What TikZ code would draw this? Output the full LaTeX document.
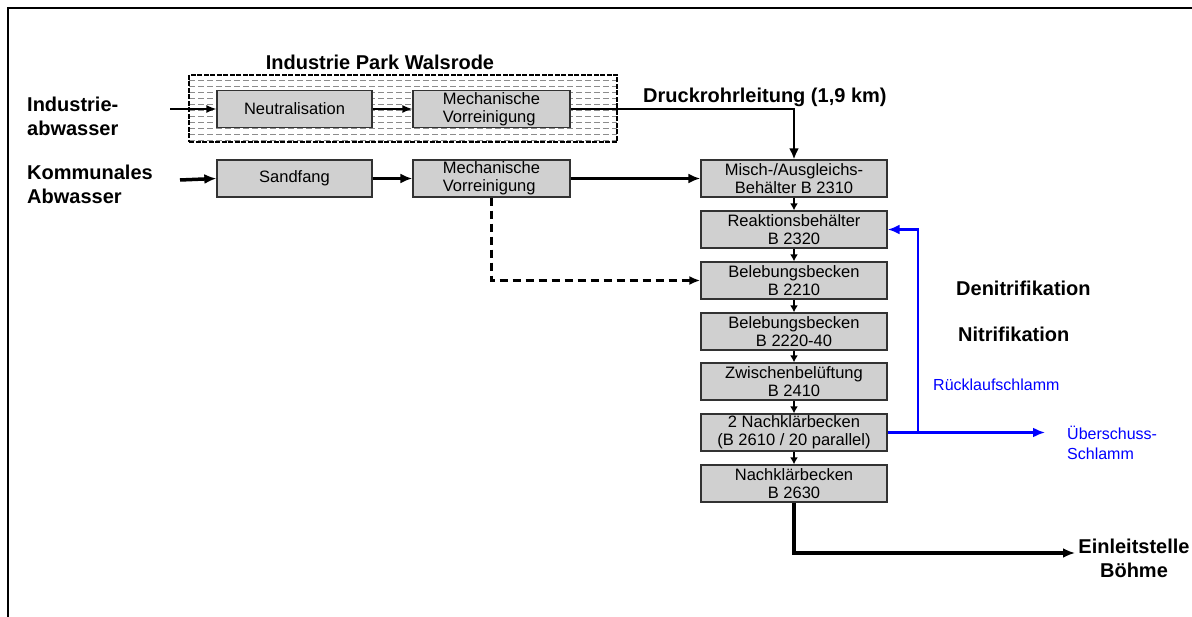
\documentclass[tikz,border=0pt]{standalone}
\usepackage{fontspec}
\setmainfont{Liberation Sans}
\usetikzlibrary{arrows.meta}
\definecolor{boxgray}{RGB}{208,208,208}
\definecolor{edgegray}{RGB}{50,50,50}
\definecolor{pureblue}{RGB}{0,0,255}
\begin{document}
\begin{tikzpicture}[x=1pt,y=-1pt,
  box/.style={draw=edgegray,fill=boxgray,line width=1.3pt,minimum width=#1,minimum height=37pt,inner sep=0pt,align=center,font=\fontsize{16.5}{18}\selectfont},
  lbl/.style={inner sep=0pt,font=\fontsize{20}{24}\selectfont\bfseries},
  bluelbl/.style={inner sep=0pt,text=pureblue,font=\fontsize{16}{20}\selectfont},
  thinarrow/.style={line width=1.5pt,-{Latex[length=10pt,width=8pt]}},
  medarrow/.style={line width=2.3pt,-{Latex[length=11pt,width=10pt]}},
  thickarrow/.style={line width=3.5pt,-{Latex[length=12pt,width=10pt]}},
  steparrow/.style={line width=2.3pt,-{Latex[length=7pt,width=8pt]}},
  dasharrow/.style={line width=2.8pt,dash pattern=on 8pt off 5pt,-{Latex[length=11pt,width=9pt]}},
  bluearrow/.style={line width=2.3pt,draw=pureblue,-{Latex[length=12pt,width=10pt]}},
  blueline/.style={line width=2.3pt,draw=pureblue},
]
\useasboundingbox (0,0) rectangle (1192,617);
% frame
\draw[line width=2.2pt] (8,617) -- (8,8) -- (1192,8);

% Industrie Park box with pattern
\begin{scope}
  \clip (189,75) rectangle (617,142);
  \foreach \yy in {80,86,...,140}
    \draw[black!45,line width=0.7pt,dash pattern=on 6pt off 3pt] (189,\yy) -- (617,\yy);
\end{scope}
\node[draw,line width=2.2pt,dash pattern=on 5pt off 1.5pt,minimum width=428pt,minimum height=67pt,inner sep=0pt] (park) at (403,108.5) {};
\node[lbl] (parktitle) at (380,62) {Industrie Park Walsrode};

% left labels
\node[lbl,anchor=west,align=left] (indlbl) at (27,116) {Industrie-\\abwasser};
\node[lbl,anchor=west,align=left] (komlbl) at (27,184) {Kommunales\\Abwasser};

% boxes row 1
\node[box=155pt] (neu) at (294.5,109) {Neutralisation};
\node[box=157pt,align=left] (mech1) at (491.5,109) {Mechanische\\Vorreinigung};
% boxes row 2
\node[box=155pt] (sand) at (294.5,178.5) {Sandfang};
\node[box=157pt,align=left] (mech2) at (491.5,178.5) {Mechanische\\Vorreinigung};

% main column
\node[box=186pt] (misch) at (794,178.5) {Misch-/Ausgleichs-\\Behälter B 2310};
\node[box=186pt] (reak) at (794,229.5) {Reaktionsbehälter\\B 2320};
\node[box=186pt] (bel1) at (794,280.5) {Belebungsbecken\\B 2210};
\node[box=186pt] (bel2) at (794,331.5) {Belebungsbecken\\B 2220-40};
\node[box=186pt] (zwi) at (794,381.5) {Zwischenbelüftung\\B 2410};
\node[box=186pt] (nk2) at (794,432.5) {2 Nachklärbecken\\(B 2610 / 20 parallel)};
\node[box=186pt] (nk3) at (794,483.5) {Nachklärbecken\\B 2630};

% labels right
\node[lbl,anchor=west] (druck) at (643,97) {Druckrohrleitung (1,9 km)};
\node[lbl,anchor=west] (deni) at (956,288) {Denitrifikation};
\node[lbl,anchor=west] (nitri) at (958,334) {Nitrifikation};
\node[bluelbl,anchor=west] (rueck) at (933,385) {Rücklaufschlamm};
\node[bluelbl,anchor=west,align=left] (ueber) at (1067,443) {Überschuss-\\Schlamm};
\node[lbl,align=center] (einl) at (1134,558) {Einleitstelle\\Böhme};

% coordinates
\coordinate (indin) at (170,109);
\coordinate (komin) at (180,180);
\coordinate (bj) at (918,432.5);
\coordinate (ueend) at (1045,432.5);
\coordinate (einend) at (1075,553);

% industrial line
\draw[thinarrow] (indin) -- (neu.west);
\draw[thinarrow] (neu.east) -- (mech1.west);
\draw[medarrow] (mech1.east) -| (misch.north);

% communal line
\draw[thickarrow] (komin) -- (sand.west);
\draw[thickarrow] (sand.east) -- (mech2.west);
\draw[thickarrow] (mech2.east) -- (misch.west);
\draw[dasharrow] (mech2.south) |- (bel1.west);

% column
\draw[steparrow] (misch.south) -- (reak.north);
\draw[steparrow] (reak.south) -- (bel1.north);
\draw[steparrow] (bel1.south) -- (bel2.north);
\draw[steparrow] (bel2.south) -- (zwi.north);
\draw[steparrow] (zwi.south) -- (nk2.north);
\draw[steparrow] (nk2.south) -- (nk3.north);

% blue return
\draw[blueline] (nk2.east) -- (bj);
\draw[bluearrow] (bj) |- (reak.east);
\draw[bluearrow] (bj) -- (ueend);

% outflow
\draw[thickarrow] (nk3.south) |- (einend);
\end{tikzpicture}
\end{document}
